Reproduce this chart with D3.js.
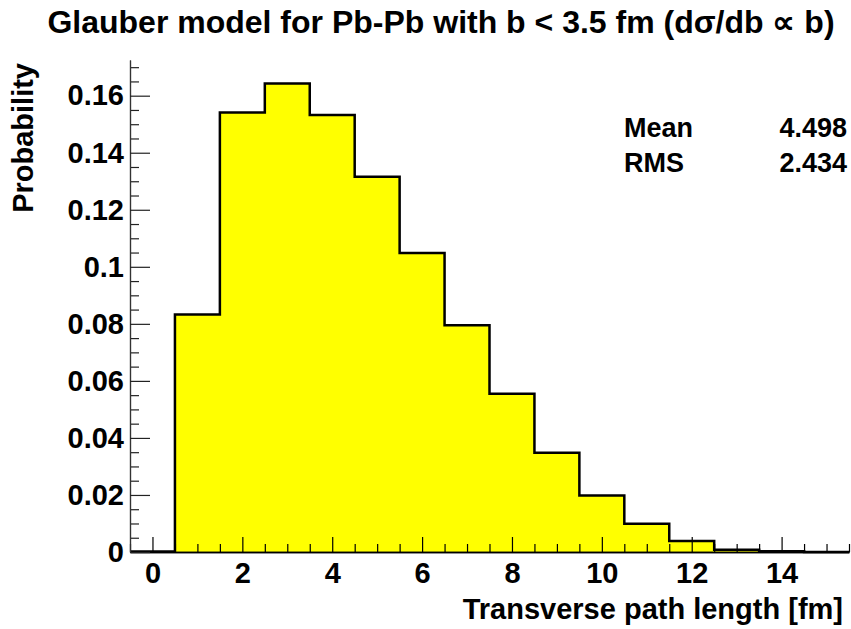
<!DOCTYPE html>
<html>
<head>
<meta charset="utf-8">
<script src="https://cdn.jsdelivr.net/npm/d3@7"></script>
<style>
  html, body { margin: 0; padding: 0; background: #fff; }
  svg { display: block; font-family: "Liberation Sans", Arial, Helvetica, sans-serif; font-weight: bold; }
</style>
</head>
<body>
<svg id="chart" width="851" height="629"></svg>
<script>
// Histogram bin centres (fm) and their probabilities
const binCenters = [0, 1, 2, 3, 4, 5, 6, 7, 8, 9, 10, 11, 12, 13, 14, 15];
const probabilities = [0.0002, 0.0833, 0.1541, 0.1643, 0.1532, 0.1316, 0.1048, 0.0795,
                       0.0555, 0.0348, 0.0198, 0.0099, 0.0039, 0.0008, 0.0003, 0.0];
const binWidth = 1;
const xMajorTicks = [0, 2, 4, 6, 8, 10, 12, 14];
const yMajorTicks = [0, 0.02, 0.04, 0.06, 0.08, 0.1, 0.12, 0.14, 0.16];
const yTickLabels = ["0", "0.02", "0.04", "0.06", "0.08", "0.1", "0.12", "0.14", "0.16"];
const statNames = ["Mean", "RMS"];
const statValues = ["4.498", "2.434"];

const svg = d3.select("#chart");

const x = d3.scaleLinear()
  .domain([binCenters[0] - binWidth / 2, binCenters[binCenters.length - 1] + binWidth / 2])
  .range([130, 849]);
const yMax = d3.max(probabilities) * 1.05;
const y = d3.scaleLinear().domain([0, yMax]).range([552, 60]);

// Step outline of the histogram
const pts = [[x.domain()[0], 0]];
binCenters.forEach((c, i) => {
  pts.push([c - binWidth / 2, probabilities[i]]);
  pts.push([c + binWidth / 2, probabilities[i]]);
});
pts.push([x.domain()[1], 0]);

const area = d3.area()
  .x(d => x(d[0]))
  .y0(y(0))
  .y1(d => y(d[1]));
const line = d3.line()
  .x(d => x(d[0]))
  .y(d => y(d[1]));

svg.append("path")
  .datum(pts)
  .attr("d", area)
  .attr("fill", "#ffff00")
  .attr("stroke", "none");

svg.append("path")
  .datum(pts.slice(1, -1))
  .attr("d", line)
  .attr("fill", "none")
  .attr("stroke", "#000")
  .attr("stroke-width", 2.5)
  .attr("stroke-linejoin", "miter");

// X axis: major ticks every 2, minor every 0.5, drawn inward
const xMinor = d3.range(-0.5, 15.5 + 1e-9, 0.5).filter(v => !xMajorTicks.includes(v));
const gxMinor = svg.append("g")
  .attr("transform", `translate(0,${y(0)})`)
  .call(d3.axisBottom(x).tickValues(xMinor).tickSizeInner(-8).tickSizeOuter(0).tickFormat(""));
const gx = svg.append("g")
  .attr("transform", `translate(0,${y(0)})`)
  .call(d3.axisBottom(x).tickValues(xMajorTicks).tickSizeInner(-15).tickSizeOuter(0).tickPadding(10));
[gx, gxMinor].forEach(g => {
  g.selectAll("line").attr("stroke", "#000").attr("stroke-width", 1.2);
  g.select(".domain").attr("stroke", "#000").attr("stroke-width", 1.5);
});
gx.selectAll("text")
  .attr("font-size", 29).attr("font-weight", "bold").attr("fill", "#000")
  .attr("font-family", "Liberation Sans, Arial, sans-serif");

// Y axis: major ticks every 0.02, minor every 0.005
const yMinor = d3.range(0, 0.17 + 1e-9, 0.005).filter(v => !yMajorTicks.some(t => Math.abs(t - v) < 1e-9));
const gyMinor = svg.append("g")
  .attr("transform", `translate(${x.range()[0]},0)`)
  .call(d3.axisLeft(y).tickValues(yMinor).tickSizeInner(-9).tickSizeOuter(0).tickFormat(""));
const gy = svg.append("g")
  .attr("transform", `translate(${x.range()[0]},0)`)
  .call(d3.axisLeft(y).tickValues(yMajorTicks).tickSizeInner(-20).tickSizeOuter(0).tickPadding(6)
    .tickFormat((d, i) => yTickLabels[i]));
[gy, gyMinor].forEach(g => {
  g.selectAll("line").attr("stroke", "#222").attr("stroke-width", 1.2);
  g.select(".domain").attr("stroke", "#333").attr("stroke-width", 1.2);
});
gy.selectAll("text")
  .attr("font-size", 29).attr("font-weight", "bold").attr("fill", "#000")
  .attr("font-family", "Liberation Sans, Arial, sans-serif");

// Title and axis titles
svg.append("text")
  .attr("x", 441).attr("y", 33)
  .attr("text-anchor", "middle")
  .attr("font-size", 32)
  .text("Glauber model for Pb-Pb with b < 3.5 fm (d\u03c3/db \u221d b)");

svg.append("text")
  .attr("x", 843).attr("y", 619)
  .attr("text-anchor", "end")
  .attr("font-size", 29)
  .text("Transverse path length [fm]");

svg.append("text")
  .attr("transform", "translate(33,63) rotate(-90)")
  .attr("text-anchor", "end")
  .attr("font-size", 29)
  .text("Probability");

// Statistics box
statNames.forEach((name, i) => {
  svg.append("text")
    .attr("x", 624).attr("y", 137 + i * 35)
    .attr("font-size", 27)
    .text(name);
  svg.append("text")
    .attr("x", 847).attr("y", 137 + i * 35)
    .attr("text-anchor", "end")
    .attr("font-size", 27)
    .text(statValues[i]);
});
</script>
</body>
</html>
